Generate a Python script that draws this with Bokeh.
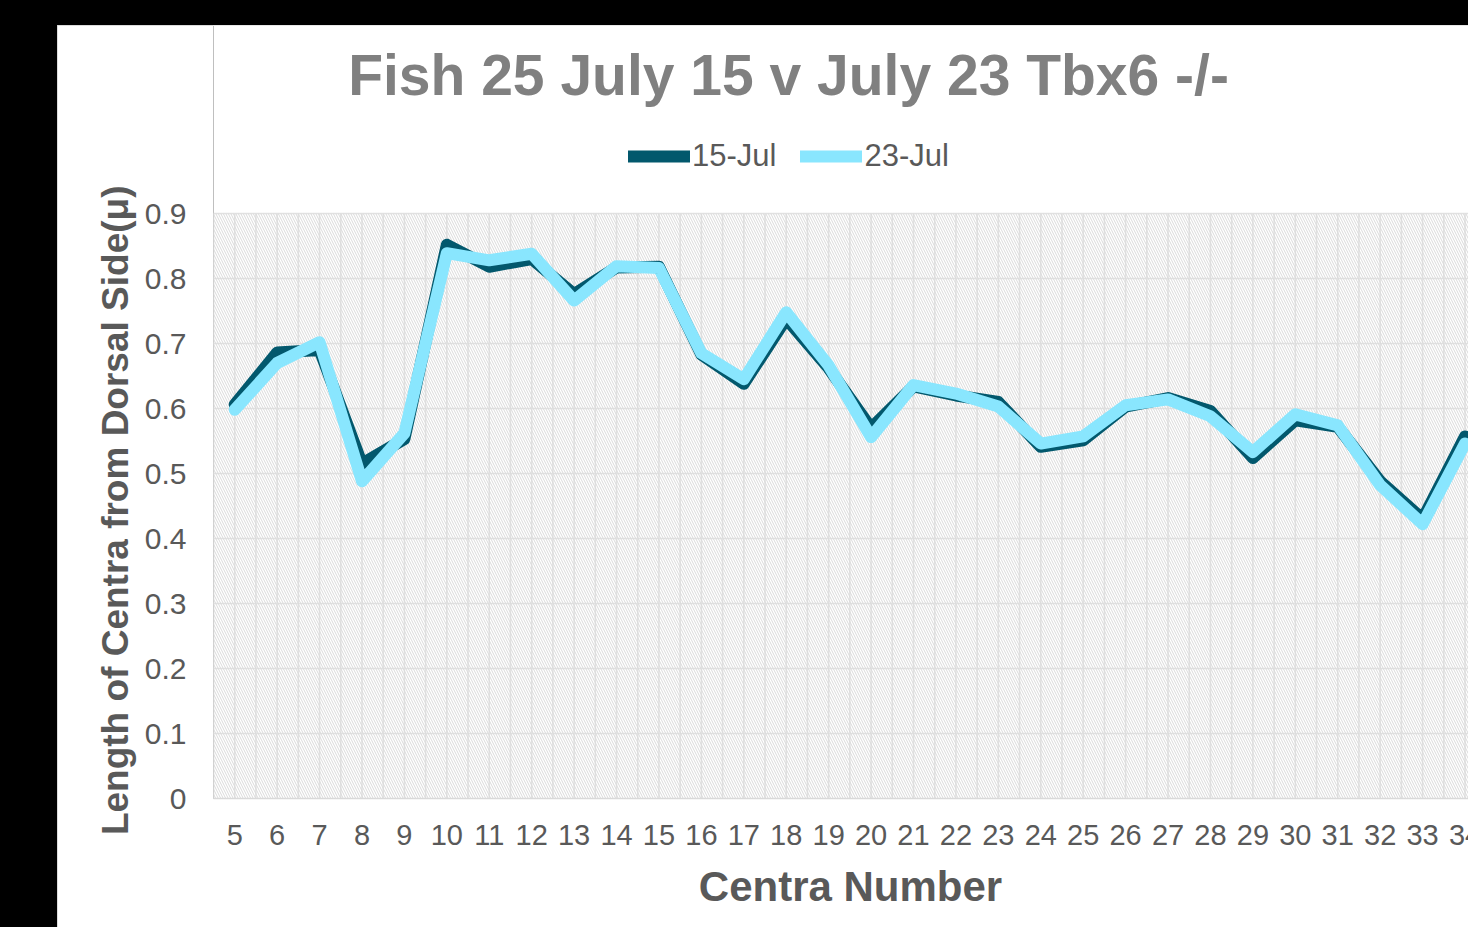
from bokeh.plotting import figure
from bokeh.models import (Range1d, FixedTicker, Legend, LegendItem, Label, Title, BoxAnnotation)
from bokeh.embed import file_html
from bokeh.resources import INLINE

# ---- data ----
centra = [5, 6, 7, 8, 9, 10, 11, 12, 13, 14, 15, 16, 17, 18, 19, 20,
          21, 22, 23, 24, 25, 26, 27, 28, 29, 30, 31, 32, 33, 34]
jul15 = [0.606, 0.686, 0.690, 0.515, 0.553, 0.852, 0.818, 0.830, 0.776, 0.817,
         0.818, 0.683, 0.638, 0.738, 0.662, 0.570, 0.634, 0.620, 0.610, 0.541,
         0.551, 0.603, 0.616, 0.596, 0.524, 0.582, 0.572, 0.488, 0.430, 0.557]
jul23 = [0.598, 0.670, 0.702, 0.488, 0.562, 0.839, 0.828, 0.838, 0.766, 0.819,
         0.816, 0.685, 0.645, 0.748, 0.666, 0.556, 0.636, 0.623, 0.603, 0.546,
         0.557, 0.605, 0.614, 0.588, 0.533, 0.591, 0.574, 0.482, 0.422, 0.546]
series_names = ["15-Jul", "23-Jul"]
y_ticks = [0, 0.1, 0.2, 0.3, 0.4, 0.5, 0.6, 0.7, 0.8, 0.9]
y_tick_labels = ["0", "0.1", "0.2", "0.3", "0.4", "0.5", "0.6", "0.7", "0.8", "0.9"]
title_text = "Fish 25 July 15 v July 23 Tbx6 -/-"
x_title = "Centra Number"
y_title = "Length of Centra from Dorsal Side(\u03bc)"

FONT = "Liberation Sans"
TXT = "#595959"
DARK = "#02586D"
LIGHT = "#89E6FE"
Y_MIN, Y_MAX = y_ticks[0], y_ticks[-1]

# frame spans from the top of the white chart area down to the x axis;
# the value area (0..0.9) occupies the lower 585 px of it
p = figure(width=1430, height=902, output_backend="svg", toolbar_location=None,
           x_range=Range1d(4.5, 34.53), y_range=Range1d(0, 0.9 + 188 / 650),
           min_border_left=156, min_border_top=0, min_border_bottom=129,
           min_border_right=0)
p.margin = (25, 0, 0, 57)
p.styles = {"outline": "1px solid #d0d0d0", "outline-offset": "-1px"}
p.outline_line_color = None
p.outline_line_alpha = 0
p.background_fill_color = "white"
p.border_fill_color = "white"
p.xgrid.visible = False

# hatch background of plot area
hatch = BoxAnnotation(bottom=Y_MIN, top=Y_MAX, fill_alpha=0, line_color=None,
                      hatch_pattern="\\", hatch_color="#dadada", hatch_scale=5,
                      hatch_weight=1.0, level="underlay")
p.add_layout(hatch)

# vertical gridlines at category centres and boundaries
gx = sorted([c - 0.5 for c in centra] + centra + [centra[-1] + 0.5])
p.segment(x0=gx, y0=[Y_MIN] * len(gx), x1=gx, y1=[Y_MAX] * len(gx),
          line_color="#e2e2e2", line_width=1.6, level="underlay")

p.ygrid.ticker = FixedTicker(ticks=y_ticks)
p.ygrid.grid_line_color = "#e2e2e2"
p.ygrid.grid_line_width = 1.6

# axes
xa = p.xaxis[0]
xa.ticker = FixedTicker(ticks=centra)
xa.axis_line_color = "#d9d9d9"
xa.axis_line_width = 1.6
xa.major_tick_line_color = None
xa.minor_tick_line_color = None
xa.major_tick_out = 0
xa.major_label_standoff = 26
xa.major_label_text_font = FONT
xa.major_label_text_font_size = "29px"
xa.major_label_text_color = TXT
xa.axis_label = x_title
xa.axis_label_text_font = FONT
xa.axis_label_text_font_style = "bold"
xa.axis_label_text_font_size = "42px"
xa.axis_label_text_color = TXT
xa.axis_label_standoff = 15

ya = p.yaxis[0]
ya.ticker = FixedTicker(ticks=y_ticks)
ya.major_label_overrides = {t: l for t, l in zip(y_ticks, y_tick_labels)}
ya.axis_line_color = None
ya.axis_line_alpha = 0
ya.axis_line_width = 0
ya.major_tick_line_color = None
ya.minor_tick_line_color = None
ya.major_tick_out = 0
ya.major_tick_in = 0
ya.minor_tick_out = 0
ya.minor_tick_in = 0
ya.major_label_standoff = 27
ya.major_label_text_font = FONT
ya.major_label_text_font_size = "30px"
ya.major_label_text_color = TXT

# y axis title, placed beside the value area
ytitle = Title(text=y_title, align="right", offset=160, vertical_align="middle",
               standoff=9, text_font=FONT, text_font_style="bold",
               text_font_size="37px", text_color=TXT)
p.add_layout(ytitle, "left")

# lines
r1 = p.line(centra, jul15, line_color=DARK, line_width=12, line_join="round", line_cap="round")
r2 = p.line(centra, jul23, line_color=LIGHT, line_width=12, line_join="round", line_cap="round")

legend = Legend(items=[LegendItem(label=series_names[0], renderers=[r1]),
                       LegendItem(label=series_names[1], renderers=[r2])],
                location=(415, 624), orientation="horizontal",
                glyph_width=62, glyph_height=34, label_height=34,
                label_standoff=2, spacing=24, padding=0, margin=0,
                label_text_font=FONT, label_text_font_size="31px",
                label_text_color=TXT, border_line_color=None,
                background_fill_alpha=0)
p.add_layout(legend, "center")

title = Label(x=575, y=724, x_units="screen", y_units="screen", text=title_text,
              text_align="center", text_baseline="alphabetic",
              text_font=FONT, text_font_style="bold", text_font_size="57px",
              text_color="#808080")
p.add_layout(title)

html = file_html(p, INLINE)
html = html.replace("<head>", "<head><style>html,body{margin:0;padding:0;background:#000;overflow:hidden;}</style>", 1)
open("out.html", "w").write(html)
